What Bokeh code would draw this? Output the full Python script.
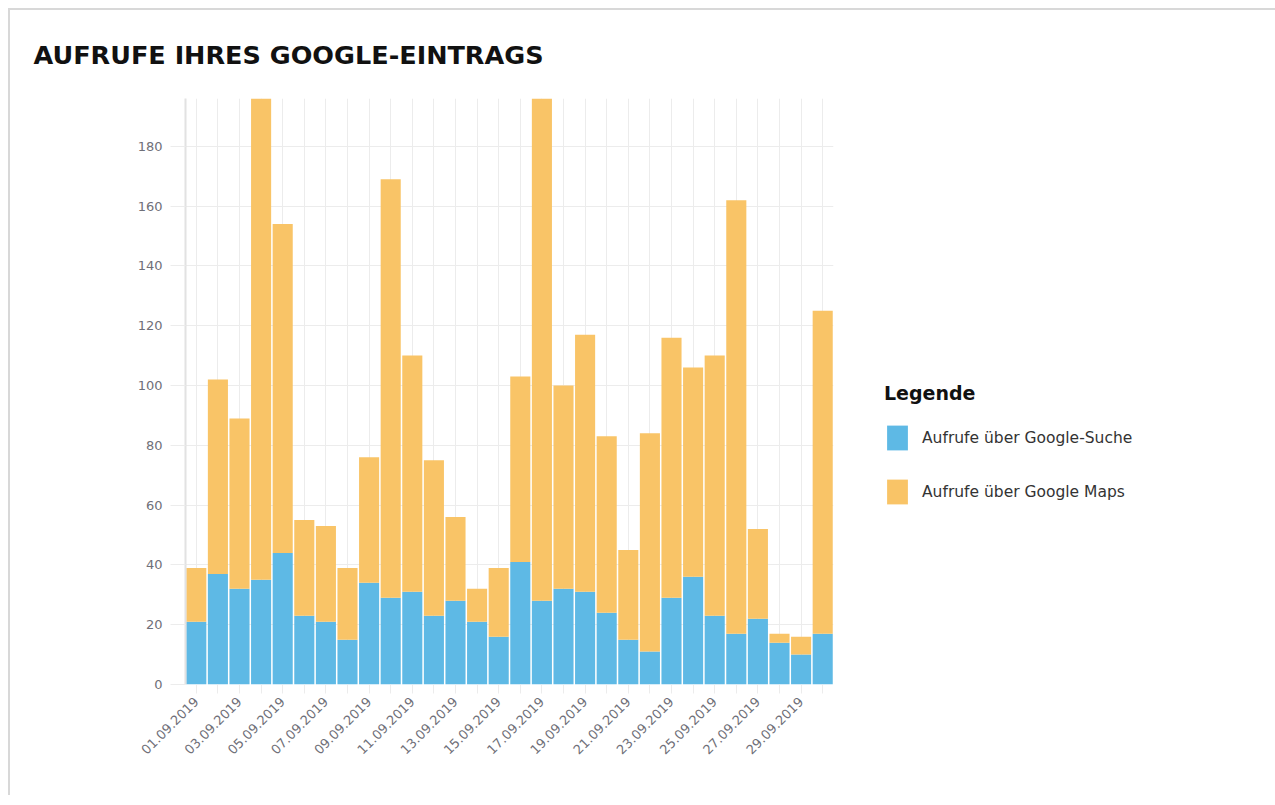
from math import pi

from bokeh.plotting import figure
from bokeh.models import (ColumnDataSource, Range1d, FixedTicker,
                          Legend, LegendItem)
from bokeh.embed import file_html
from bokeh.resources import INLINE

# ---------------- data ----------------
dates = ["01.09.2019", "02.09.2019", "03.09.2019", "04.09.2019", "05.09.2019",
         "06.09.2019", "07.09.2019", "08.09.2019", "09.09.2019", "10.09.2019",
         "11.09.2019", "12.09.2019", "13.09.2019", "14.09.2019", "15.09.2019",
         "16.09.2019", "17.09.2019", "18.09.2019", "19.09.2019", "20.09.2019",
         "21.09.2019", "22.09.2019", "23.09.2019", "24.09.2019", "25.09.2019",
         "26.09.2019", "27.09.2019", "28.09.2019", "29.09.2019", "30.09.2019"]

google_suche = [21, 37, 32, 35, 44, 23, 21, 15, 34, 29,
                31, 23, 28, 21, 16, 41, 28, 32, 31, 24,
                15, 11, 29, 36, 23, 17, 22, 14, 10, 17]

google_maps = [18, 65, 57, 175, 110, 32, 32, 24, 42, 140,
               79, 52, 28, 11, 23, 62, 180, 68, 86, 59,
               30, 73, 87, 70, 87, 145, 30, 3, 6, 108]

shown_date_labels = ["01.09.2019", "03.09.2019", "05.09.2019", "07.09.2019",
                     "09.09.2019", "11.09.2019", "13.09.2019", "15.09.2019",
                     "17.09.2019", "19.09.2019", "21.09.2019", "23.09.2019",
                     "25.09.2019", "27.09.2019", "29.09.2019"]

y_ticks = [0, 20, 40, 60, 80, 100, 120, 140, 160, 180]

series_names = ["Aufrufe über Google-Suche", "Aufrufe über Google Maps"]
title_text = "AUFRUFE IHRES GOOGLE-EINTRAGS"
legend_title = "Legende"

# ---------------- styles ----------------
BLUE = "#5EB9E5"
ORANGE = "#F9C467"
GRID = "#ececec"
LABEL = "#6f6f78"

# bar positions come from the order of the date categories
positions = list(range(len(dates)))
source = ColumnDataSource(dict(pos=positions, date=dates,
                               suche=google_suche, maps=google_maps))

p = figure(frame_width=648, frame_height=586,
           x_range=Range1d(-0.5, len(dates) - 0.5),
           y_range=Range1d(0, 196),
           output_backend="svg", toolbar_location=None,
           min_border_left=175, min_border_right=0,
           min_border_top=88, min_border_bottom=111)

p.styles = {"margin-left": "8px", "margin-top": "8px",
            "border-left": "2px solid #d8d8d8",
            "border-top": "2px solid #d8d8d8"}
p.outline_line_color = None
p.background_fill_color = "white"
p.border_fill_color = "white"

renderers = p.vbar_stack(["suche", "maps"], x="pos", width=0.93,
                         color=[BLUE, ORANGE], line_color=None, source=source)

# title
p.title.text = title_text
p.title.align = "left"
p.title.vertical_align = "middle"
p.title.offset = -152
p.title.text_font = "DejaVu Sans"
p.title.text_font_style = "bold"
p.title.text_font_size = "25.5px"
p.title.text_color = "#111111"
p.title.standoff = 56

# y axis
p.yaxis.ticker = FixedTicker(ticks=y_ticks)
p.yaxis.major_tick_out = 15
p.yaxis.major_tick_in = 0
p.yaxis.minor_tick_line_color = None
p.yaxis.major_tick_line_color = GRID
p.yaxis.axis_line_color = "#e2e2e2"
p.yaxis.axis_line_width = 2
p.yaxis.major_label_standoff = 8
p.yaxis.major_label_text_font = "DejaVu Sans"
p.yaxis.major_label_text_font_size = "13px"
p.yaxis.major_label_text_color = LABEL

# x axis
p.xaxis.ticker = FixedTicker(ticks=positions)
p.xaxis.minor_tick_line_color = None
p.xaxis.major_tick_out = 9
p.xaxis.major_tick_in = 0
p.xaxis.major_tick_line_color = GRID
p.xaxis.axis_line_color = None
p.xaxis.major_label_orientation = pi / 4
p.xaxis.major_label_standoff = 6
p.xaxis.major_label_text_font = "DejaVu Sans"
p.xaxis.major_label_text_font_size = "13px"
p.xaxis.major_label_text_color = LABEL
p.xaxis.major_label_overrides = {i: (d if d in shown_date_labels else "")
                                 for i, d in zip(positions, dates)}

# grid
p.ygrid.grid_line_color = GRID
p.xgrid.grid_line_color = GRID

# legend
legend = Legend(items=[LegendItem(label=series_names[0], renderers=[renderers[0]]),
                       LegendItem(label=series_names[1], renderers=[renderers[1]])],
                location=(51, 177), padding=0, margin=0,
                title=legend_title, title_standoff=18,
                title_text_font="DejaVu Sans", title_text_font_style="bold",
                title_text_font_size="19px", title_text_color="#111111",
                glyph_width=26, glyph_height=31, spacing=23, label_standoff=12,
                label_text_font="DejaVu Sans", label_text_font_size="15.5px",
                label_text_color="#333333",
                border_line_color=None, background_fill_alpha=0)
p.add_layout(legend, "right")

open("out.html", "w").write(file_html(p, INLINE))
